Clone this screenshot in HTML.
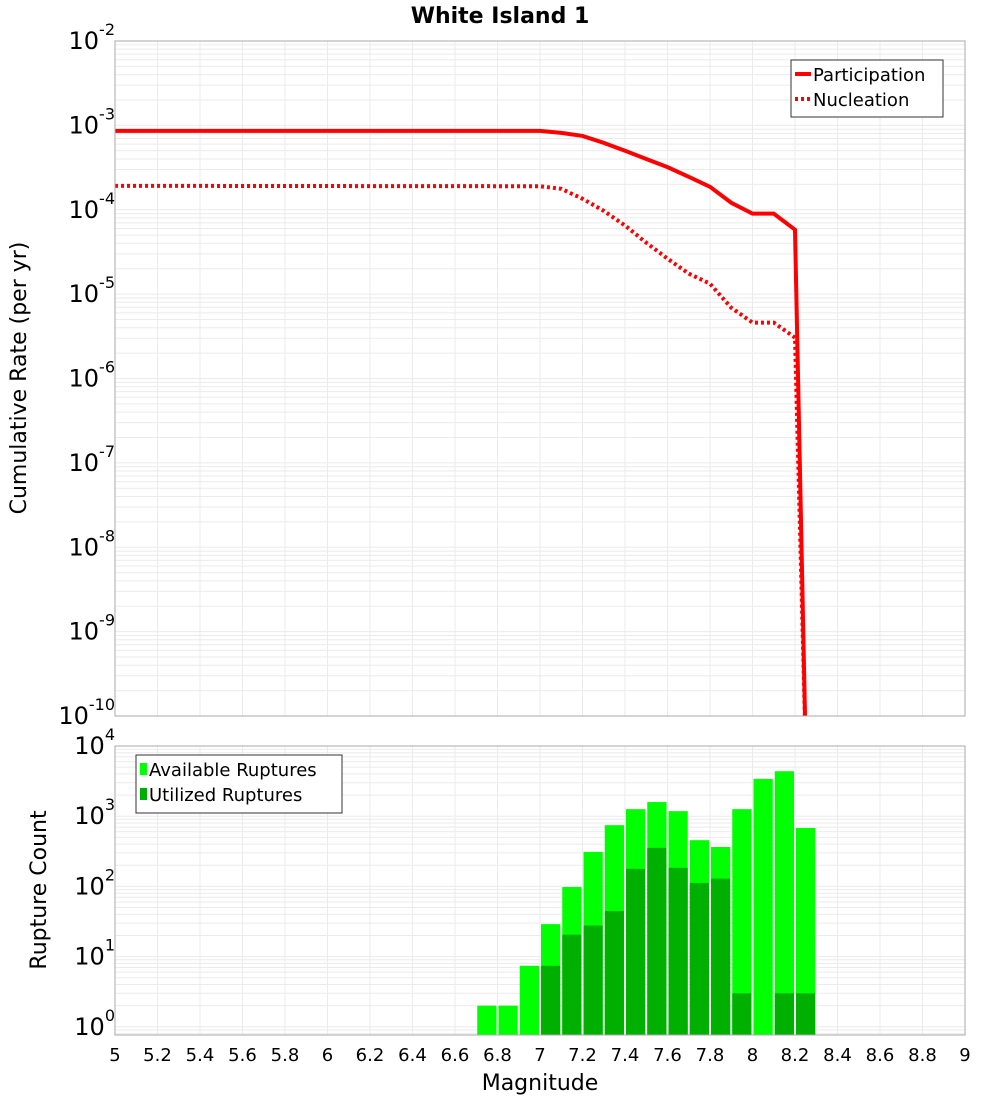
<!DOCTYPE html>
<html><head><meta charset="utf-8"><style>
body{margin:0;background:#fff}
svg{display:block;font-family:"DejaVu Sans","Liberation Sans",sans-serif}
</style></head><body>
<svg id="c" width="1000" height="1100" viewBox="0 0 1000 1100" xmlns="http://www.w3.org/2000/svg">
<text x="500" y="23" text-anchor="middle" font-size="22" font-weight="bold">White Island 1</text>
<g id="topg"></g><g id="botg"></g>
</svg>
<script>
const partMags=[5,7.0,7.1,7.2,7.3,7.4,7.5,7.6,7.7,7.8,7.9,8.0,8.1,8.2,8.25];
const partVals=[8.6e-4,8.6e-4,8.15e-4,7.5e-4,6.2e-4,5.0e-4,4.0e-4,3.2e-4,2.46e-4,1.87e-4,1.21e-4,9.0e-5,9.0e-5,5.8e-5,1e-12];
const nuclMags=[5,7.0,7.1,7.2,7.3,7.4,7.5,7.6,7.7,7.8,7.9,8.0,8.1,8.2,8.25];
const nuclVals=[1.92e-4,1.9e-4,1.77e-4,1.35e-4,9.7e-5,6.5e-5,4.07e-5,2.63e-5,1.75e-5,1.33e-5,6.9e-6,4.6e-6,4.6e-6,3.05e-6,1e-12];
const binStarts=[6.7,6.8,6.9,7.0,7.1,7.2,7.3,7.4,7.5,7.6,7.7,7.8,7.9,8.0,8.1,8.2];
const availVals=[2,2,7.4,29,98,310,745,1260,1590,1180,455,364,1260,3400,4370,680];
const utilVals=[0,0,0,7.4,20.5,27.7,44.5,178,354,184,112,129,3,0,3,3];
const xTicks=[5,5.2,5.4,5.6,5.8,6,6.2,6.4,6.6,6.8,7,7.2,7.4,7.6,7.8,8,8.2,8.4,8.6,8.8,9];
const topExps=[-2,-3,-4,-5,-6,-7,-8,-9,-10];
const botExps=[4,3,2,1,0];

const NS="http://www.w3.org/2000/svg";
function mk(p,t,a){const e=document.createElementNS(NS,t);for(const k in a)e.setAttribute(k,a[k]);p.appendChild(e);return e;}
const X0=115,X1=965;
const xs=m=>X0+(m-5)/4*(X1-X0);
const T0=41,T1=716; const yT=v=>T0+(-2-Math.log10(v))/8*(T1-T0);
const B0=746,B1=1035; const yB=v=>B0+(4-Math.log10(v))*70.2;
const svgRoot=document.getElementById('c');
const gTop=document.getElementById('topg'),gBot=document.getElementById('botg');

const defs=mk(svgRoot,'defs',{});
const cp=mk(defs,'clipPath',{id:'ct'});mk(cp,'rect',{x:X0,y:T0,width:X1-X0,height:T1-T0});
const cb=mk(defs,'clipPath',{id:'cb'});mk(cb,'rect',{x:X0,y:B0,width:X1-X0,height:B1-B0});

function grid(g,y0,y1,ylo,yhi,yf){
  for(let d=ylo;d<yhi;d++)for(let k=1;k<10;k++){const yy=yf(k*Math.pow(10,d));if(yy<y0-0.5||yy>y1+0.5)continue;
    const l=mk(g,'line',{x1:X0,x2:X1,y1:yy,y2:yy,stroke:'#ebebeb','stroke-width':1});
    
    }
  xTicks.forEach(t=>{const l=mk(g,'line',{x1:xs(t),x2:xs(t),y1:y0,y2:y1,stroke:'#ebebeb','stroke-width':1});
    
    });
}
grid(gTop,T0,T1,-10,-2,yT);
grid(gBot,B0,B1,-1,4,yB);

function poly(mags,vals,dash,name){
  const pts=mags.map((m,i)=>xs(m)+','+Math.min(yT(vals[i]),T1+30)).join(' ');
  const p=mk(gTop,'polyline',{points:pts,fill:'none',stroke:'#ff0000','stroke-width':4,'stroke-dasharray':dash,'clip-path':'url(#ct)'});
  
  
}
poly(nuclMags,nuclVals,'3,3','nucleation-line');
poly(partMags,partVals,'none','participation-line');

binStarts.forEach((s,i)=>{
  const xl=xs(s)+1,w=xs(s+0.1)-xs(s)-2;
  const ya=yB(availVals[i]);
  const r=mk(gBot,'rect',{x:xl,y:ya,width:w,height:B1-ya,fill:'#00ff00','clip-path':'url(#cb)'});
  
  
  if(utilVals[i]>0){const yu=yB(utilVals[i]);
    const u=mk(gBot,'rect',{x:xl,y:yu,width:w,height:B1-yu,fill:'#00b000','clip-path':'url(#cb)'});
    
    }
});

[[T0,T1,gTop],[B0,B1,gBot]].forEach(([a,b,g])=>{const r=mk(g,'rect',{x:X0,y:a,width:X1-X0,height:b-a,fill:'none',stroke:'#aaa','stroke-width':1});
  
  });

function ylab(g,e,yy){
  const t=mk(g,'text',{x:115,y:yy+8,'text-anchor':'end','font-size':24});
  
  
  const a=mk(t,'tspan',{});a.textContent='10';
  const b=mk(t,'tspan',{dy:-14,'font-size':16});b.textContent=String(e);
}
topExps.forEach(e=>ylab(gTop,e,yT(Math.pow(10,e))));
botExps.forEach(e=>ylab(gBot,e,yB(Math.pow(10,e))));

xTicks.forEach(t=>{const l=mk(gBot,'text',{x:xs(t),y:1061,'text-anchor':'middle','font-size':18});
  l.textContent=String(t);
  
  });

function title(txt,xx,yy,rot,name){const t=mk(svgRoot,'text',{x:xx,y:yy,'text-anchor':'middle','font-size':22});
  if(rot)t.setAttribute('transform',`rotate(-90 ${xx} ${yy})`);
  t.textContent=txt;
  
  }
title('Magnitude',540,1090,false,'x-axis-title');
title('Cumulative Rate (per yr)',26,378,true,'y-axis-title-top');
title('Rupture Count',46,890,true,'y-axis-title-bottom');

function legend(g,x0,y0,w,h,items){
  const lg=mk(g,'g',{});
  
  
  mk(lg,'rect',{x:x0,y:y0,width:w,height:h,fill:'#fff',stroke:'#333','stroke-width':1});
  items.forEach((it,i)=>{const cy=y0+14+i*25;
    const e=mk(lg,'g',{});
    
    
    if(it.type==='line')mk(e,'line',{x1:x0+4,x2:x0+20,y1:cy,y2:cy,stroke:'#f00','stroke-width':4,'stroke-dasharray':it.dash});
    else mk(e,'rect',{x:x0+4,y:cy-6,width:7,height:12,fill:it.color});
    const t=mk(e,'text',{x:x0+(it.type==='line'?22:13),y:cy+7,'font-size':18});t.textContent=it.label;});
}
legend(gTop,791,60,152,57,[{type:'line',dash:'none',label:'Participation'},{type:'line',dash:'3,3',label:'Nucleation'}]);
legend(gBot,136,755,206,58,[{type:'bar',color:'#00ff00',label:'Available Ruptures'},{type:'bar',color:'#00b000',label:'Utilized Ruptures'}]);
</script>
</body></html>
